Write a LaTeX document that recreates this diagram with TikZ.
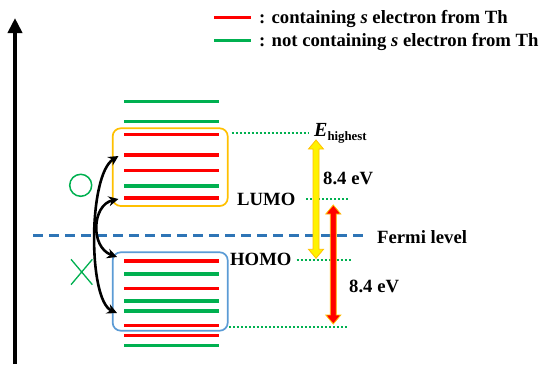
\documentclass[tikz,border=0pt]{standalone}
\usepackage{fontspec}
\setmainfont{Liberation Serif}
\usetikzlibrary{arrows.meta,calc,shapes.misc}
\definecolor{lvred}{HTML}{FF0000}
\definecolor{lvgreen}{HTML}{00B050}
\definecolor{gold}{HTML}{FFC000}
\definecolor{boxblue}{HTML}{5B9BD5}
\definecolor{fermiblue}{HTML}{2E75B6}
\tikzset{level/.style={line width=3.3pt},lvbox/.style={draw,rounded corners=8pt,line width=1.7pt,minimum width=115pt,inner sep=0pt},leader/.style={draw=lvgreen,line width=2pt,dash pattern=on 2pt off 2pt},lbl/.style={font=\fontsize{18.7}{22}\selectfont\bfseries,inner sep=0pt,anchor=base west},hop/.style={line width=2.6pt,{Stealth[length=10pt,width=10pt]}-{Stealth[length=10pt,width=10pt]}},gapfill/.style={draw=gold,line width=0.8pt}}
\newcommand{\gaparrow}[3]{\filldraw[gapfill,fill=#3] (#1) -- ($(#1)+(7.5,9)$) -- ($(#1)+(3,9)$) -- ($(#2)+(3,-9)$) -- ($(#2)+(7.5,-9)$) -- (#2) -- ($(#2)+(-7.5,-9)$) -- ($(#2)+(-3,-9)$) -- ($(#1)+(-3,9)$) -- ($(#1)+(-7.5,9)$) -- cycle;}

\begin{document}
\begin{tikzpicture}[x=1pt,y=-1pt]
\useasboundingbox (0,0) rectangle (542,367);
% energy axis
\coordinate (axbot) at (15,364);
\coordinate (axtop) at (15,18);
\draw[line width=4pt,-{Triangle[length=15pt,width=14pt]}] (axbot) -- (axtop);
% legend
\node[lbl] (leg1) at (259,23.3) {: containing \textit{s} electron from Th};
\node[lbl] (leg2) at (259,46) {: not containing \textit{s} electron from Th};
\draw[level,lvred] (214.3,17.3) -- (250.7,17.3);
\draw[level,lvgreen] (214.3,40.7) -- (250.7,40.7);
% Fermi level
\coordinate (fl) at (33,235.7);
\node[lbl] (fermi) at (377,243) {Fermi level};
\draw[fermiblue,line width=2.5pt,dash pattern=on 10pt off 6pt] (fl) -- (363,235.7);
% boxes and levels
\node[lvbox,draw=gold,minimum height=77.7pt] (lumobox) at (170.2,167.15) {};
\node[lvbox,draw=boxblue,minimum height=78.4pt] (homobox) at (170.2,291.5) {};
\foreach \y/\c in {101.3/lvgreen,121.7/lvgreen,134.3/lvred,155/lvred,170.7/lvred,186/lvgreen,198/lvred,261/lvred,274/lvgreen,288.7/lvred,301/lvgreen,311/lvgreen,325.3/lvred,335.7/lvred,345.3/lvgreen}
  \draw[level,\c] (124,\y) -- (219,\y);
% transitions
\coordinate (a1) at (117,313);
\coordinate (a2) at (118.5,156);
\coordinate (b1) at (117,257);
\coordinate (b2) at (118.5,199);
\draw[hop] (a1) .. controls (88,300) and (88,175) .. (a2);
\draw[hop] (b1) .. controls (90,247) and (92,205) .. (b2);
\node[draw=lvgreen,circle,line width=1.5pt,minimum size=22pt,inner sep=0pt] (okmark) at (80.7,185.3) {};
\node[draw=lvgreen,cross out,line width=1.3pt,minimum width=20pt,minimum height=24pt,inner sep=0pt] (ngmark) at (81.7,272) {};
% labels
\node[lbl] (ehigh) at (314,136) {{\fontsize{20}{22}\selectfont\textit{E}}\raisebox{-4.5pt}{\fontsize{12.8}{14}\selectfont highest}};
\node[lbl] (lumo) at (237,205.5) {LUMO};
\node[lbl] (homo) at (230,265.3) {HOMO};
\node[lbl] (gaptop) at (323,184.3) {8.4 eV};
\node[lbl] (gapbot) at (349,292.3) {8.4 eV};
% leaders
\draw[leader] (231.5,133.3) -- (308,133.3);
\draw[leader] (306,199.3) -- (347.7,199.3);
\draw[leader] (296.7,260) -- (351,260);
\draw[leader] (229,327.3) -- (347.7,327.3);
% gaps
\coordinate (yt) at (316,140);
\coordinate (yb) at (316,258.3);
\coordinate (rt) at (333.3,205);
\coordinate (rb) at (333.3,324);
\gaparrow{yt}{yb}{yellow}
\gaparrow{rt}{rb}{lvred}
\end{tikzpicture}
\end{document}
